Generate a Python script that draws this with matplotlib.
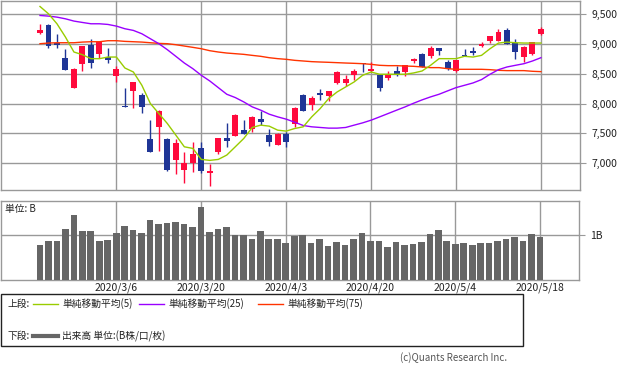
import matplotlib
matplotlib.use("Agg")
import matplotlib.pyplot as plt
import pandas as pd
import numpy as np

plt.rcParams['font.family'] = ['Noto Sans CJK JP', 'DejaVu Sans']

# trading days (US market, Good Friday closed)
days = pd.bdate_range("2020-02-24", "2020-05-18")
days = days[days != pd.Timestamp("2020-04-10")]
date_labels = [f"{d.year}/{d.month}/{d.day}" for d in days]

opens = [9178, 9305, 9011, 8755, 8261, 8661, 8972, 8827, 8778, 8461,
         7961, 8211, 8139, 7405, 7611, 7405, 7061, 6894, 7000, 7255,
         6844, 7188, 7422, 7461, 7555, 7572, 7739, 7472, 7311, 7489,
         7655, 8139, 7977, 8172, 8122, 8339, 8344, 8472, 8672, 8539,
         8472, 8422, 8539, 8527, 8705, 8827, 8794, 8922, 8689, 8539,
         8811, 8872, 8966, 9044, 9044, 9222, 9005, 8778, 8827, 9161]
highs = [9322, 9322, 9155, 8905, 8589, 8955, 9072, 9044, 8922, 8622,
         8255, 8355, 8183, 7722, 7889, 7422, 7405, 7188, 7355, 7355,
         6994, 7422, 7672, 7822, 7722, 7788, 7872, 7572, 7505, 7522,
         7938, 8155, 8122, 8239, 8205, 8539, 8472, 8572, 8672, 8689,
         8472, 8539, 8622, 8639, 8766, 8839, 8955, 8922, 8733, 8722,
         8905, 8939, 9028, 9122, 9239, 9255, 9072, 8955, 9022, 9272]
lows = [9166, 8928, 8928, 8561, 8261, 8544, 8594, 8761, 8677, 8361,
        7944, 7927, 7844, 7194, 7211, 6877, 6827, 6677, 6861, 6844,
        6627, 7155, 7278, 7461, 7494, 7522, 7639, 7294, 7311, 7272,
        7605, 7872, 7894, 8055, 8039, 8322, 8289, 8389, 8522, 8522,
        8211, 8389, 8455, 8455, 8683, 8605, 8761, 8811, 8555, 8527,
        8794, 8811, 8950, 9011, 9044, 8994, 8744, 8694, 8811, 9144]
closes = [9222, 8961, 8978, 8561, 8572, 8955, 8677, 9028, 8727, 8572,
          7944, 8355, 7944, 7194, 7872, 6888, 7339, 7005, 7155, 6872,
          6872, 7422, 7377, 7805, 7494, 7772, 7689, 7355, 7489, 7355,
          7922, 7872, 8088, 8139, 8205, 8527, 8405, 8544, 8655, 8577,
          8255, 8489, 8489, 8639, 8739, 8605, 8922, 8877, 8572, 8722,
          8794, 8844, 9000, 9122, 9189, 8994, 8861, 8939, 9022, 9239]

ma5 = [9622, 9500, 9333, 9111, 8861, 8816, 8750, 8750, 8777, 8777,
       8594, 8527, 8305, 8000, 7833, 7666, 7472, 7277, 7250, 7066,
       7050, 7066, 7139, 7277, 7416, 7600, 7639, 7622, 7555, 7539,
       7583, 7611, 7777, 7916, 8083, 8194, 8277, 8361, 8472, 8527,
       8489, 8489, 8489, 8489, 8511, 8544, 8639, 8750, 8750, 8750,
       8789, 8777, 8805, 8916, 9011, 9027, 9016, 9011, 9011, 9011]
ma25 = [9472, 9461, 9444, 9416, 9378, 9355, 9333, 9333, 9322, 9294,
        9250, 9222, 9166, 9083, 9000, 8900, 8789, 8677, 8583, 8472,
        8377, 8266, 8155, 8100, 8027, 7944, 7889, 7822, 7777, 7739,
        7688, 7633, 7611, 7600, 7589, 7589, 7600, 7639, 7677, 7722,
        7777, 7833, 7889, 7944, 8005, 8061, 8111, 8155, 8211, 8266,
        8305, 8344, 8400, 8489, 8566, 8611, 8639, 8666, 8711, 8766]
ma75 = [9000, 9011, 9016, 9016, 9016, 9027, 9033, 9033, 9050, 9050,
        9039, 9033, 9027, 9016, 9005, 9000, 8983, 8961, 8939, 8916,
        8883, 8861, 8844, 8833, 8822, 8805, 8789, 8766, 8750, 8739,
        8722, 8711, 8700, 8694, 8689, 8683, 8677, 8672, 8666, 8655,
        8639, 8633, 8633, 8627, 8622, 8611, 8600, 8600, 8583, 8572,
        8572, 8572, 8572, 8566, 8555, 8550, 8550, 8550, 8539, 8533]

volume = [0.78, 0.87, 0.87, 1.14, 1.46, 1.10, 1.10, 0.87, 0.90, 1.05,
          1.21, 1.12, 1.05, 1.34, 1.25, 1.28, 1.30, 1.25, 1.19, 1.63,
          1.07, 1.14, 1.19, 1.01, 1.01, 0.92, 1.10, 0.92, 0.92, 0.83,
          0.99, 1.01, 0.83, 0.92, 0.76, 0.85, 0.78, 0.92, 1.05, 0.87,
          0.87, 0.74, 0.85, 0.78, 0.81, 0.85, 1.03, 1.12, 0.87, 0.81,
          0.83, 0.78, 0.83, 0.83, 0.87, 0.92, 0.96, 0.87, 1.03, 0.96]

price_ticks = [7000, 7500, 8000, 8500, 9000, 9500]

RED = "#ff0a3c"
BLUE = "#1f3596"
GRID = "#999999"
W, H = 633, 374

fig = plt.figure(figsize=(W / 100, H / 100), dpi=100)

def px_axes(x0, y0, x1, y1):
    return fig.add_axes([x0 / W, 1 - y1 / H, (x1 - x0) / W, (y1 - y0) / H])

x = np.arange(len(closes))
label_idx = [i for i in range(len(closes)) if i % 10 == 9]
xlim = (-4.65, 63.6)

# ---- price panel
ax = px_axes(0.5, 0.5, 580, 190)
ax.set_xlim(*xlim)
ax.set_ylim(6555, 9722)
for i in x:
    o, h, l, c = opens[i], highs[i], lows[i], closes[i]
    col = RED if c >= o else BLUE
    ax.vlines(i, l, h, color=col, lw=1, zorder=2)
    ax.bar(i, max(abs(c - o), 14), bottom=min(o, c), width=0.7,
           color=col, lw=0, zorder=3)
ax.plot(x, ma75, color="#ff3300", lw=1, zorder=4)
ax.plot(x, ma25, color="#9900ff", lw=1, zorder=4)
ax.plot(x, ma5, color="#99cc00", lw=1, zorder=4)

ax.set_yticks(price_ticks)
ax.set_yticklabels([f"{v:,}" for v in price_ticks])
ax.yaxis.tick_right()
ax.set_xticks(label_idx)
ax.set_xticklabels([])
ax.tick_params(axis="x", length=0)
ax.tick_params(axis="y", length=4, color=GRID, labelsize=7.5, pad=4, labelcolor="#222222")
ax.grid(True, color=GRID, lw=1)
ax.set_axisbelow(True)
for s in ax.spines.values():
    s.set_color(GRID)
    s.set_linewidth(1)

# ---- volume panel
av = px_axes(0.5, 201, 579, 280)
av.set_xlim(*xlim)
av.set_ylim(0, 1.77)
av.bar(x, volume, width=0.78, color="#666666", lw=0, zorder=3)
av.set_yticks([1.0])
av.set_yticklabels(["1B"])
av.yaxis.tick_right()
av.set_xticks(label_idx)
av.set_xticklabels([date_labels[i] for i in label_idx])
av.tick_params(axis="x", length=0, labelsize=7.5, pad=2, labelcolor="#222222")
av.tick_params(axis="y", length=4, color=GRID, labelsize=7.5, pad=4, labelcolor="#222222")
av.grid(True, color=GRID, lw=1)
av.set_axisbelow(True)
for s in av.spines.values():
    s.set_color(GRID)
    s.set_linewidth(1)
av.text(0.008, 0.9, "単位: B", transform=av.transAxes, fontsize=7,
        va="center", ha="left", color="#222222")

# ---- legend box (pixel coordinates)
lg = fig.add_axes([0, 0, 1, 1])
lg.set_xlim(0, W)
lg.set_ylim(H, 0)
lg.axis("off")
lg.add_patch(plt.Rectangle((0.5, 294), 522, 52, fill=False, ec="#222222", lw=1))
tk = dict(fontsize=7, va="center", ha="left", color="#222222")
lg.text(7, 304, "上段:", **tk)
lg.plot([33, 58], [304, 304], color="#99cc00", lw=1)
lg.text(62, 304, "単純移動平均(5)", **tk)
lg.plot([139, 164], [304, 304], color="#9900ff", lw=1)
lg.text(168, 304, "単純移動平均(25)", **tk)
lg.plot([258, 283], [304, 304], color="#ff3300", lw=1)
lg.text(287, 304, "単純移動平均(75)", **tk)
lg.text(7, 336, "下段:", **tk)
lg.plot([33, 58], [336, 336], color="#666666", lw=3)
lg.text(62, 336, "出来高 単位:(B株/口/枚)", **tk)
lg.text(507, 358, "(c)Quants Research Inc.", fontsize=7, va="center",
        ha="right", color="#555555")

fig.savefig("out.png", dpi=100)
